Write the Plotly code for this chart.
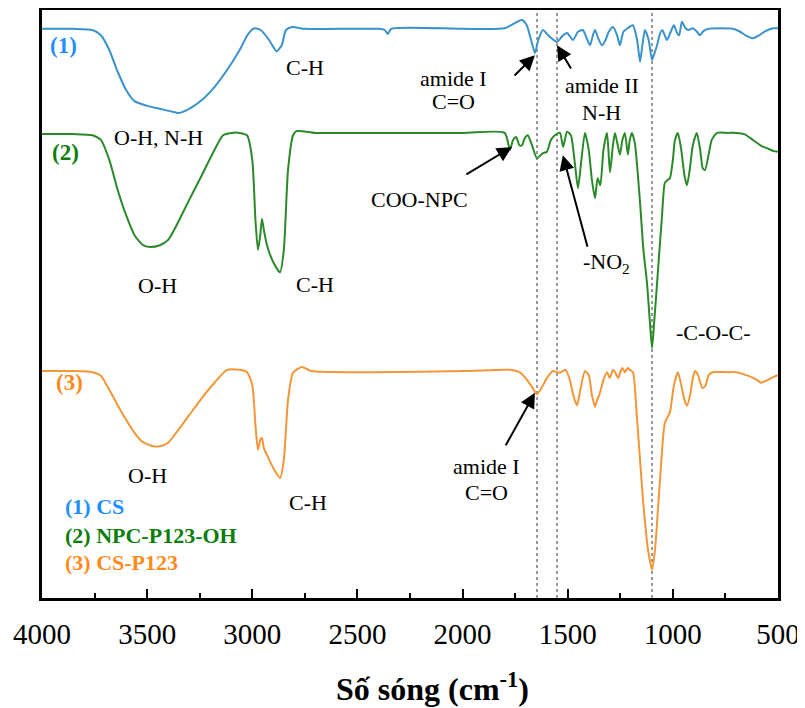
import plotly.graph_objects as go

# ---------------- data ----------------
# Spectrum (1) CS : wavenumber (cm-1) and offset transmittance (a.u.)
cs_wn = [4000, 3850, 3760, 3720, 3680, 3640, 3600, 3560, 3500, 3440, 3380, 3350, 3300, 3240,
         3180, 3120, 3060, 3020, 2990, 2960, 2920, 2885, 2860, 2840, 2810, 2750, 2400, 2370,
         2355, 2340, 2000, 1800, 1740, 1717, 1695, 1672, 1656, 1640, 1618, 1590, 1551, 1525,
         1503, 1475, 1451, 1428, 1410, 1394, 1380, 1370, 1355, 1337, 1320, 1305, 1285, 1265,
         1252, 1235, 1215, 1190, 1170, 1156, 1145, 1133, 1115, 1099, 1085, 1075, 1060, 1050,
         1028, 1010, 995, 980, 970, 957, 940, 925, 906, 885, 872, 855, 830, 714, 680, 650,
         619, 590, 560, 524, 500]
cs_t = [96.8, 96.8, 96.6, 95.7, 93.2, 89.5, 86.4, 84.5, 83.7, 83.2, 82.7, 82.5, 83.2, 84.7,
        86.9, 89.8, 93.2, 95.9, 96.9, 96.6, 94.9, 93.0, 94.0, 96.6, 97.1, 96.8, 96.8, 96.6,
        95.9, 96.8, 96.8, 96.9, 98.0, 98.3, 97.4, 94.6, 92.7, 94.9, 96.6, 95.6, 94.6, 95.6,
        96.1, 94.9, 96.3, 96.6, 95.2, 94.0, 95.7, 96.6, 95.2, 94.0, 94.9, 96.3, 97.1, 95.7,
        94.0, 96.3, 96.9, 97.4, 94.9, 91.2, 94.0, 96.6, 94.9, 91.5, 92.9, 94.0, 96.1, 96.6,
        94.9, 96.3, 97.4, 96.1, 95.7, 98.0, 96.9, 96.6, 96.9, 96.3, 95.7, 96.4, 96.8, 96.8,
        96.3, 95.6, 95.2, 95.7, 96.4, 96.9, 96.9]

# Spectrum (2) NPC-P123-OH
npc_wn = [4000, 3850, 3760, 3720, 3680, 3640, 3600, 3560, 3520, 3486, 3440, 3400, 3360, 3300,
          3240, 3180, 3139, 3100, 3060, 3025, 3000, 2985, 2973, 2962, 2954, 2945, 2930, 2900,
          2868, 2850, 2830, 2806, 2790, 2700, 2500, 2000, 1800, 1775, 1760, 1745, 1730, 1717,
          1705, 1690, 1670, 1646, 1620, 1599, 1580, 1561, 1537, 1522, 1503, 1485, 1465, 1451,
          1435, 1418, 1400, 1385, 1370, 1358, 1345, 1330, 1313, 1299, 1285, 1275, 1252, 1240,
          1228, 1214, 1205, 1195, 1181, 1157, 1140, 1123, 1110, 1099, 1088, 1075, 1052, 1038,
          1025, 1014, 1000, 990, 976, 960, 945, 933, 920, 905, 886, 870, 858, 847, 830, 815,
          790, 740, 700, 660, 619, 580, 553, 520, 500]
npc_t = [78.9, 78.9, 78.7, 77.9, 74.5, 69.4, 65.1, 61.7, 60.0, 59.7, 60.0, 60.9, 63.4, 67.7,
         71.9, 76.2, 78.7, 79.1, 79.1, 78.7, 74.5, 64.3, 59.2, 61.7, 64.5, 62.6, 60.0, 57.1,
         55.4, 59.2, 72.8, 78.7, 79.4, 79.1, 79.1, 79.1, 79.1, 76.2, 77.9, 78.4, 77.0, 77.0,
         78.2, 78.7, 77.0, 74.8, 75.6, 75.9, 77.9, 78.7, 79.1, 76.7, 79.3, 78.7, 73.6, 69.7,
         74.5, 79.1, 76.2, 71.1, 68.0, 71.4, 70.2, 76.2, 79.1, 72.4, 77.0, 79.1, 75.4, 77.9,
         79.1, 75.4, 77.9, 79.1, 77.4, 67.7, 59.2, 53.6, 47.3, 42.5, 47.3, 53.6, 64.8, 70.6,
         71.1, 71.4, 74.5, 77.9, 79.1, 76.2, 71.9, 70.2, 72.8, 77.0, 79.1, 76.2, 73.1, 72.8,
         75.4, 77.9, 79.1, 79.1, 79.1, 78.9, 77.9, 76.9, 76.5, 76.0, 75.9]

# Spectrum (3) CS-P123
csp_wn = [4000, 3850, 3760, 3720, 3680, 3640, 3600, 3560, 3520, 3470, 3440, 3400, 3360, 3300,
          3240, 3180, 3120, 3060, 3025, 3000, 2985, 2973, 2962, 2954, 2945, 2930, 2900, 2868,
          2850, 2830, 2806, 2764, 2720, 2000, 1775, 1730, 1700, 1670, 1646, 1625, 1599, 1570,
          1540, 1510, 1490, 1470, 1455, 1440, 1418, 1400, 1385, 1370, 1360, 1350, 1330, 1313,
          1300, 1285, 1275, 1260, 1250, 1240, 1228, 1214, 1205, 1190, 1171, 1142, 1118, 1099,
          1085, 1062, 1038, 1014, 995, 976, 960, 945, 933, 918, 905, 895, 880, 860, 845, 830,
          810, 743, 700, 650, 600, 581, 560, 520, 500]
csp_t = [38.6, 38.6, 38.4, 37.8, 35.4, 32.8, 30.3, 28.1, 26.5, 25.8, 25.8, 26.4, 28.2, 31.1,
         34.0, 36.6, 38.8, 38.8, 38.4, 36.2, 29.4, 25.2, 26.9, 27.2, 25.5, 24.3, 22.1, 20.4,
         23.5, 33.7, 38.3, 39.3, 38.6, 38.6, 38.8, 38.4, 37.4, 35.9, 34.7, 35.7, 37.4, 38.6,
         38.3, 38.8, 37.1, 34.0, 32.8, 35.4, 38.6, 37.9, 34.5, 32.5, 33.7, 34.5, 37.1, 38.4,
         37.4, 38.8, 38.4, 37.4, 38.4, 39.1, 38.4, 39.1, 38.8, 38.4, 30.8, 16.7, 8.2, 4.8,
         8.2, 19.6, 29.8, 31.6, 36.2, 38.4, 36.2, 33.7, 32.7, 34.5, 37.4, 38.6, 37.9, 35.7,
         36.1, 37.9, 38.4, 38.4, 38.4, 37.9, 37.1, 36.6, 36.9, 37.6, 37.9]

series_names = ["(1) CS", "(2) NPC-P123-OH", "(3) CS-P123"]
series_tags = ["(1)", "(2)", "(3)"]
line_colors = ["#3a92cc", "#2a8a2a", "#f39638"]
text_colors = ["#1e8fff", "#0b7d0b", "#ff8a1c"]

# reference (dotted) lines, cm-1
ref_lines = [1646, 1551, 1099]

# tick labels
x_ticks = [4000, 3500, 3000, 2500, 2000, 1500, 1000, 500]

# peak labels: (text, wavenumber, value)
peak_labels = [
    ("C-H", 2749, 90.3),
    ("O-H, N-H", 3448, 78.4),
    ("O-H", 3453, 53.2),
    ("C-H", 2702, 53.4),
    ("COO-NPC", 2203, 67.7),
    ("amide I", 2041, 88.3),
    ("C=O", 2041, 84.4),
    ("amide II", 1337, 87.1),
    ("N-H", 1340, 82.5),
    ("-NO<sub>2</sub>", 1314, 57.0),
    ("-C-O-C-", 809, 45.1),
    ("O-H", 3496, 20.9),
    ("C-H", 2735, 16.2),
    ("amide I", 1884, 22.3),
    ("C=O", 1888, 17.9),
]

# arrows: (head wn, head value, tail wn, tail value)
arrows = [
    (1656, 92.3, 1760, 88.6),
    (1551, 94.0, 1480, 89.8),
    (1765, 76.7, 1989, 71.9),
    (1523, 75.3, 1404, 59.5),
    (1656, 34.9, 1799, 25.7),
]

# curve tag positions (wn, value)
tag_pos = [(3900, 94.0), (3886, 75.7), (3867, 36.6)]
legend_pos = [(3900, 15.5), (3900, 10.7), (3900, 6.0)]

# ---------------- figure ----------------
FONT = "Liberation Serif"
fig = go.Figure()

for wn, t, c in zip([cs_wn, npc_wn, csp_wn], [cs_t, npc_t, csp_t], line_colors):
    fig.add_trace(go.Scatter(x=wn, y=t, mode="lines",
                             line=dict(color=c, width=2, shape="spline", smoothing=0.6),
                             showlegend=False, hoverinfo="skip"))

for xv in ref_lines:
    fig.add_shape(type="line", xref="x", yref="paper", x0=xv, x1=xv, y0=0, y1=1,
                  line=dict(color="#7a7a7a", width=1.5, dash="dot"), layer="below")

ann = []
for txt, xw, yv in peak_labels:
    ann.append(dict(x=xw, y=yv, xref="x", yref="y", text=txt, showarrow=False,
                    font=dict(family=FONT, size=22, color="black")))
for hx, hy, tx, ty in arrows:
    ann.append(dict(x=hx, y=hy, ax=tx, ay=ty, xref="x", yref="y", axref="x", ayref="y",
                    text="", showarrow=True, arrowhead=2, arrowsize=1.5, arrowwidth=2,
                    arrowcolor="black"))
for (xw, yv), tag, col in zip(tag_pos, series_tags, text_colors):
    ann.append(dict(x=xw, y=yv, xref="x", yref="y", text="<b>%s</b>" % tag, showarrow=False,
                    font=dict(family=FONT, size=23, color=col)))
for (xw, yv), name, col in zip(legend_pos, series_names, text_colors):
    ann.append(dict(x=xw, y=yv, xref="x", yref="y", text="<b>%s</b>" % name, showarrow=False,
                    xanchor="left", font=dict(family=FONT, size=22, color=col)))
ann.append(dict(x=0.531, y=-0.151, xref="paper", yref="paper", yanchor="middle",
                text="<b>Số sóng (cm<sup>-1</sup>)</b>", showarrow=False,
                font=dict(family=FONT, size=32, color="black")))

# the page body adds an 8px offset, so margins are set to compensate
fig.update_layout(
    width=805, height=708,
    margin=dict(l=34, r=35, t=2, b=118, autoexpand=False),
    paper_bgcolor="white", plot_bgcolor="white",
    font=dict(family=FONT),
    annotations=ann,
    xaxis=dict(range=[4000, 500], tickvals=x_ticks, ticktext=[str(v) for v in x_ticks],
               ticks="inside", ticklen=9, tickwidth=2, tickcolor="black",
               minor=dict(ticks="inside", ticklen=5, tickwidth=1.5, tickcolor="black", dtick=250,
                          tick0=500, showgrid=False),
               showline=True, linecolor="black", linewidth=2.5, mirror=True, automargin=False,
               showgrid=False, zeroline=False, ticklabelstandoff=8,
               tickfont=dict(family=FONT, size=29, color="black")),
    yaxis=dict(range=[0, 100], showticklabels=False, ticks="", showline=True, automargin=False,
               linecolor="black", linewidth=2.5, mirror=True, showgrid=False, zeroline=False),
)

fig.write_html("out.html")
